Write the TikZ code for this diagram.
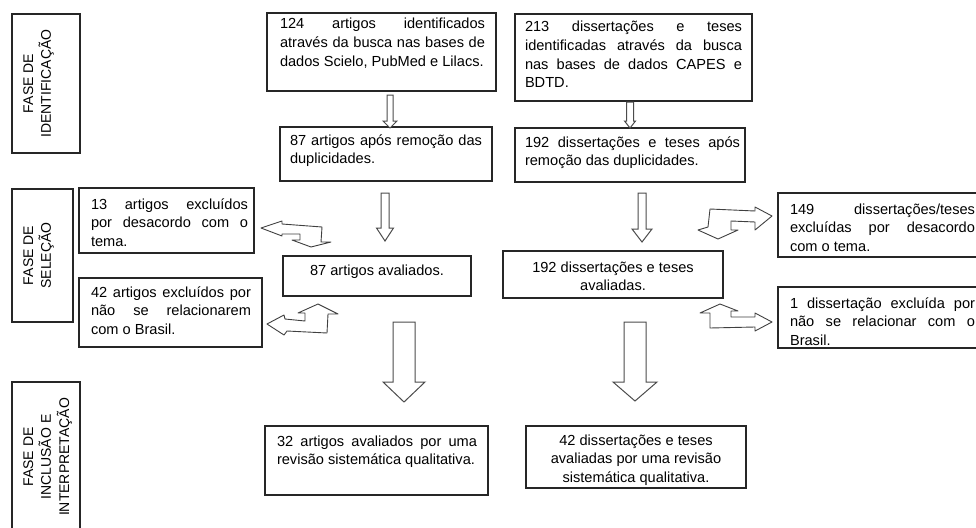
\documentclass[tikz,border=0pt]{standalone}
\usepackage{fontspec}
\setmainfont{Liberation Sans}
\newcommand{\fl}{\leavevmode\rule{0pt}{11pt}}
\tikzset{
  boxst/.style={draw=black!85, line width=1.2pt, inner sep=0pt, outer sep=0pt},
  phasest/.style={boxst, rotate=90, font=\fontsize{14}{18}\selectfont},
  blockst/.style={draw=black!70, line width=1pt, fill=white, line join=miter},
  bentst/.style={draw=black!75, line width=0.9pt, fill=white, line join=round}
}
% name, x1, y1, x2, y2, top offset, left pad, right pad, text
\newcommand{\bxn}[9]{%
  \node[boxst, anchor=north west] (#1) at (#2,#3)
    {\parbox[t][\dimexpr #5pt-#3pt\relax][t]{\dimexpr #4pt-#2pt\relax}{%
      \vspace*{#6pt}\leftskip=#7pt\rightskip=#8pt\tolerance=10000\hbadness=10000 #9}};}
% xc, ytop, shaft half width, head half width, y head base, y tip
\newcommand{\darrow}[6]{%
  \draw[blockst] ({#1-#3},#2) -- ({#1+#3},#2) -- ({#1+#3},#5) -- ({#1+#4},#5)
    -- (#1,#6) -- ({#1-#4},#5) -- ({#1-#3},#5) -- cycle;}
\begin{document}
\begin{tikzpicture}[x=1pt, y=-1pt, font=\fontsize{14.6}{18.6}\selectfont]
\useasboundingbox (0,0) rectangle (976,527);
\clip (0,0) rectangle (976,527);
\fill[white] (0,0) rectangle (976,527);

% phase labels
\node[phasest] (p1) at (46,83.5)
  {\parbox[t][68pt][t]{139pt}{\vspace*{10pt}\centering\fl FASE DE\\IDENTIFICAÇÃO}};
\node[phasest] (p2) at (42.5,255.5)
  {\parbox[t][61pt][t]{133pt}{\vspace*{10pt}\centering\fl FASE DE\\SELEÇÃO}};
\node[phasest] (p3) at (46,457)
  {\parbox[t][68pt][t]{150pt}{\vspace*{10pt}\centering\fl FASE DE\\INCLUSÃO E\\INTERPRETAÇÃO}};

% boxes
\bxn{b1}{267}{13}{496}{91}{5}{13}{11}{\fl 124 artigos identificados\linebreak através da busca nas bases de\linebreak dados Scielo, PubMed e Lilacs.}
\bxn{b2}{515}{14}{752}{101}{7}{10}{10}{\fl 213 dissertações e teses\linebreak identificadas através da busca\linebreak nas bases de dados CAPES e\linebreak BDTD.}
\bxn{b3}{280}{127}{492}{181}{7}{10}{10}{\fl 87 artigos após remoção das\linebreak duplicidades.}
\bxn{b4}{515}{128}{745}{182}{8}{10}{5}{\fl 192 dissertações e teses após\linebreak remoção das duplicidades.}
\bxn{b5}{79}{188}{254}{253}{10}{12}{6}{\fl 13 artigos excluídos\linebreak por desacordo com o\linebreak tema.}
\bxn{b6}{283}{256}{471}{296}{8}{0}{0}{\centering\fl 87 artigos avaliados.}
\bxn{b7}{503}{251}{723}{298}{10}{0}{0}{\centering\fl 192 dissertações e teses\\avaliadas.}
\bxn{b8}{778}{193}{987}{257}{10}{12}{12}{\fl 149 dissertações/teses\linebreak excluídas por desacordo\linebreak com o tema.}
\bxn{b9}{79}{278}{262}{347}{8}{12}{11}{\fl 42 artigos excluídos por\linebreak não se relacionarem\linebreak com o Brasil.}
\bxn{b10}{778}{287}{987}{348}{10}{12}{12}{\fl 1 dissertação excluída por\linebreak não se relacionar com o\linebreak Brasil.}
\bxn{b11}{265}{426}{488}{495}{9}{12}{11}{\fl 32 artigos avaliados por uma\linebreak revisão sistemática qualitativa.}
\bxn{b12}{526}{426}{746}{488}{8}{0}{0}{\centering\fl 42 dissertações e teses\\avaliadas por uma revisão\\sistemática qualitativa.}

% straight block arrows
\darrow{390}{95}{3}{7}{121}{128}
\darrow{630}{102}{3.5}{5.5}{121}{128}
\darrow{385}{193}{4}{8.5}{228}{241}
\darrow{642}{193}{4}{10}{229}{242}
\darrow{404}{322}{11}{21}{382}{402}
\darrow{635}{322}{11}{22}{382}{401}

% bent double arrows
\draw[bentst] (261,228) -- (282,221) -- (282,224) -- (322,227) -- (321,242) -- (331,242)
  -- (311,247) -- (292,240) -- (300,240) -- (300,234) -- (282,234) -- (282,236) -- cycle;
\draw[bentst] (267,324) -- (284,315) -- (285,319) -- (305,321) -- (305,313) -- (298,313)
  -- (318,304) -- (338,314) -- (328,314) -- (327,333) -- (287,331) -- (284,335) -- cycle;
\draw[bentst] (772,216) -- (755,207) -- (755,211) -- (710,209) -- (708,227) -- (698,230)
  -- (718,239) -- (738,230) -- (731,230) -- (731,221) -- (755,222) -- (755,230) -- cycle;
\draw[bentst] (772,322) -- (755,313) -- (755,317) -- (731,317) -- (731,311) -- (738,311)
  -- (720,304) -- (700,313) -- (710,313) -- (710,328) -- (755,327) -- (755,331) -- cycle;
\end{tikzpicture}
\end{document}
